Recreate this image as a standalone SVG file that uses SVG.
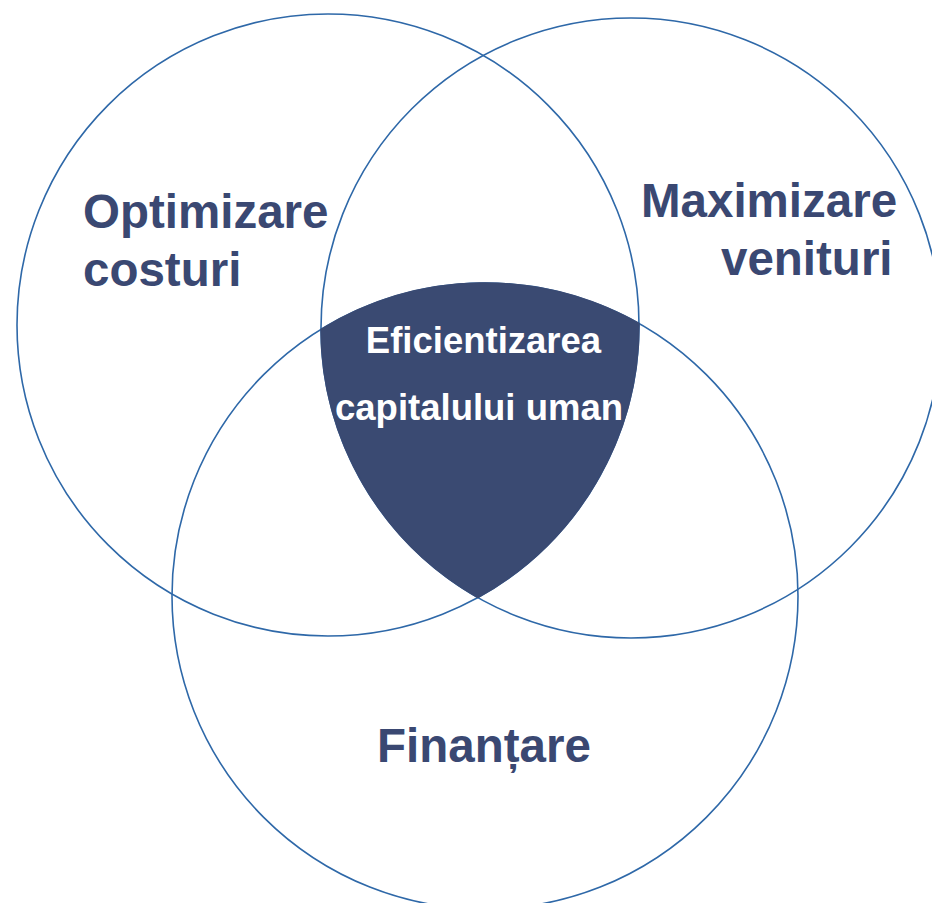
<svg xmlns="http://www.w3.org/2000/svg" width="932" height="903" viewBox="0 0 932 903">
<style>
.ring{fill:none;stroke:#2E68A8;stroke-width:1.6}
.lbl{font-family:"Liberation Sans",Arial,sans-serif;font-weight:bold;font-size:47.5px;fill:#3A4872}
.core{font-family:"Liberation Sans",Arial,sans-serif;font-weight:bold;font-size:36.5px;fill:#FFFFFF;text-anchor:middle}
</style>
<rect width="932" height="903" fill="#FFFFFF"/>
<g id="connectors"></g>
<g id="circle-optimizare">
<circle class="ring" cx="328" cy="325" r="311"/>
</g>
<g id="circle-maximizare">
<circle class="ring" cx="631" cy="328" r="310"/>
</g>
<g id="circle-finantare">
<circle class="ring" cx="485" cy="596" r="313"/>
</g>
<g id="center">
<path d="M321,329.4 A313,313 0 0 1 639,323.5 A311,311 0 0 1 477.8,597.5 A310,310 0 0 1 321,329.4 Z" fill="#3A4A72" stroke="#3A4A72" stroke-width="1.5"/>
<text class="core" x="483.5" y="353">Eficientizarea</text>
<text class="core" x="479" y="420">capitalului uman</text>
</g>
<g id="label-optimizare">
<text class="lbl" x="83" y="228">Optimizare</text>
<text class="lbl" x="83" y="286">costuri</text>
</g>
<g id="label-maximizare">
<text class="lbl" x="641" y="217">Maximizare</text>
<text class="lbl" x="721" y="275">venituri</text>
</g>
<g id="label-finantare">
<text class="lbl" x="377" y="762">Finanțare</text>
</g>
</svg>
